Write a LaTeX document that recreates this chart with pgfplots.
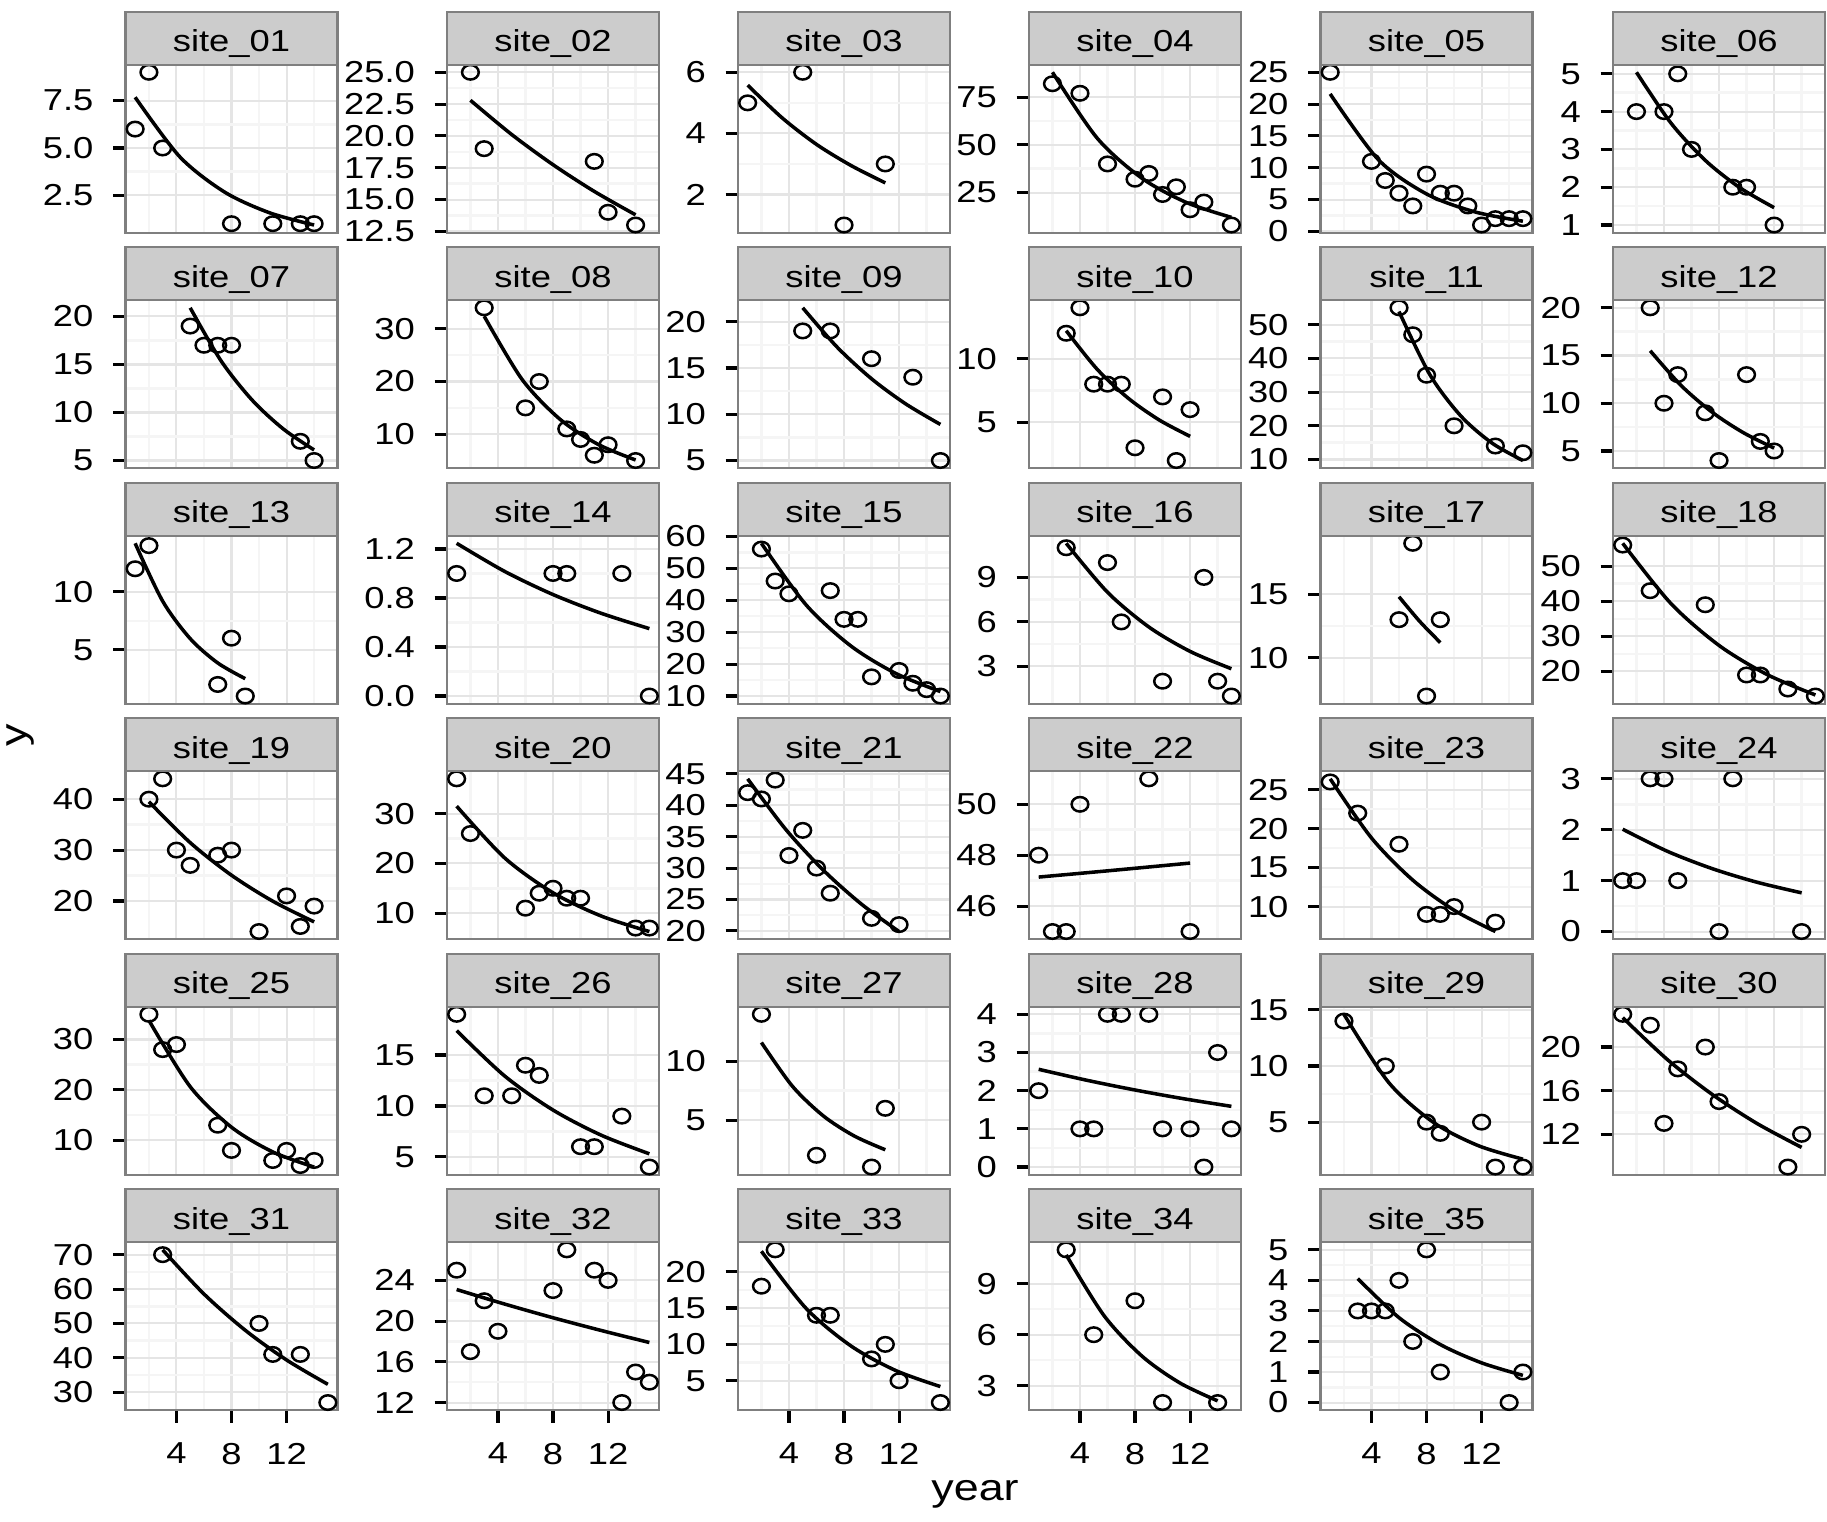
\documentclass[border=0pt]{standalone}
\usepackage{fontspec}
\setmainfont{Liberation Sans}[FakeStretch=1.2]
\usepackage{pgfplots}
\pgfplotsset{compat=1.18}

\definecolor{grey90}{HTML}{E5E5E5}
\definecolor{grey97}{HTML}{F5F5F5}
\definecolor{grey80}{HTML}{CCCCCC}
\definecolor{grey50}{HTML}{7F7F7F}

\newcommand\tickfont{\fontsize{7.3}{8}\selectfont}
\newcommand\titlefont{\fontsize{9}{11}\selectfont}

% panel lower-left corners, in pixels of the 1827x1521 reference
\newcommand{\colx}[1]{\ifcase#1\or125.5\or447\or738\or1029\or1320.5\or1613\fi}
\newcommand{\rowy}[1]{\ifcase#1\or1288.3\or1052.8\or817.3\or581.8\or346.3\or110.8\fi}

\pgfplotsset{
  panel/.style={
    scale only axis, width=51.07pt, height=40.47pt, anchor=south west,
    xmin=0.3, xmax=15.7, enlarge x limits=false, enlarge y limits=0.05,
    xtick={4,8,12}, minor xtick={2,6,10,14}, minor y tick num=1,
    grid=both,
    major grid style={draw=grey90, line width=0.5pt},
    minor grid style={draw=grey97, line width=0.6pt},
    axis line style={draw=grey50, line width=0.55pt},
    tick align=outside, xtick pos=bottom, ytick pos=left,
    major tick length=3pt, minor tick length=0pt,
    tick style={black, line width=0.75pt},
    xticklabels={}, xtick style={draw=none},
    ticklabel style={font=\tickfont},
    yticklabel style={xshift=-1.2pt},
    xticklabel style={yshift=-1.4pt},
    /pgf/number format/assume math mode=true,
    scaled y ticks=false,
  },
  bottom/.style={xticklabels={4,8,12}, xtick style={draw=black}},
  dec/.style={yticklabel style={/pgf/number format/fixed, /pgf/number format/fixed zerofill, /pgf/number format/precision=1}},
  pts/.style={only marks, mark=o, mark size=1.75pt, mark options={xscale=1.15, line width=0.6pt, draw=black}},
  fit/.style={black, line width=0.85pt, smooth, mark=none},
}

% #1 column, #2 row, #3 strip text, #4 axis options, #5 points, #6 fitted curve
\newcommand{\Panel}[6]{%
  \edef\X{\colx{#1}}\edef\Y{\rowy{#2}}%
  \pgfmathsetlengthmacro\Xd{\X*0.2409pt}%
  \pgfmathsetlengthmacro\Yd{\Y*0.2409pt}%
  \begin{axis}[panel, at={(\Xd,\Yd)}, #4]
    \addplot[pts] coordinates {#5};
    \addplot[fit] coordinates {#6};
  \end{axis}
  \pgfmathsetlengthmacro\Sb{(\Y+168)*0.2409pt}%
  \pgfmathsetlengthmacro\St{(\Y+221)*0.2409pt}%
  \pgfmathsetlengthmacro\Xe{(\X+212)*0.2409pt}%
  \pgfmathsetlengthmacro\Xm{(\X+106)*0.2409pt}%
  \pgfmathsetlengthmacro\Sm{(\Y+181)*0.2409pt}%
  \draw[fill=grey80, draw=grey50, line width=0.55pt] (\Xd,\Sb) rectangle (\Xe,\St);
  \node[anchor=base, font=\tickfont, inner sep=0pt] at (\Xm,\Sm) {#3};
}

\begin{document}
\begin{tikzpicture}
\useasboundingbox (0,0) rectangle (440.12pt,366.41pt);

\Panel{1}{1}{site\_01}{ytick={2.5,5,7.5}, dec}{(1,6)(2,9)(3,5)(8,1)(11,1)(13,1)(14,1)}{(1,7.68)(4.25,4.53)(7.5,2.67)(10.75,1.58)(14,0.93)}
\Panel{2}{1}{site\_02}{ytick={12.5,15,17.5,20,22.5,25}, dec}{(2,25)(3,19)(11,18)(12,14)(14,13)}{(2,22.8)(5,20.11)(8,17.74)(11,15.64)(14,13.8)}
\Panel{3}{1}{site\_03}{ytick={2,4,6}}{(1,5)(5,6)(8,1)(11,3)}{(1,5.58)(3.5,4.51)(6,3.64)(8.5,2.95)(11,2.38)}
\Panel{4}{1}{site\_04}{ytick={25,50,75}}{(2,82)(4,77)(6,40)(8,32)(9,35)(10,24)(11,28)(12,16)(13,20)(15,8)}{(2,88)(5.25,53.5)(8.5,32.5)(11.75,19.75)(15,12)}
\Panel{5}{1}{site\_05}{ytick={0,5,10,15,20,25}}{(1,25)(4,11)(5,8)(6,6)(7,4)(8,9)(9,6)(10,6)(11,4)(12,1)(13,2)(14,2)(15,2)}{(1,21.6)(4.5,11.27)(8,5.88)(11.5,3.07)(15,1.6)}
\Panel{6}{1}{site\_06}{ytick={1,2,3,4,5}}{(2,4)(4,4)(5,5)(6,3)(9,2)(10,2)(12,1)}{(2,5.04)(4.5,3.70)(7,2.71)(9.5,1.99)(12,1.46)}

\Panel{1}{2}{site\_07}{ytick={5,10,15,20}}{(5,19)(6,17)(7,17)(8,17)(13,7)(14,5)}{(5,20.9)(7.25,15.36)(9.5,11.29)(11.75,8.30)(14,6.1)}
\Panel{2}{2}{site\_08}{ytick={10,20,30}}{(3,34)(6,15)(7,20)(9,11)(10,9)(11,6)(12,8)(14,5)}{(3,32.4)(5.75,20.41)(8.5,12.85)(11.25,8.10)(14,5.1)}
\Panel{3}{2}{site\_09}{ytick={5,10,15,20}}{(5,19)(7,19)(10,16)(13,14)(15,5)}{(5,21.5)(7.5,17.25)(10,13.83)(12.5,11.10)(15,8.9)}
\Panel{4}{2}{site\_10}{ytick={5,10}}{(3,12)(4,14)(5,8)(6,8)(7,8)(8,3)(10,7)(11,2)(12,6)}{(3,12.2)(5.25,9.17)(7.5,6.90)(9.75,5.19)(12,3.9)}
\Panel{5}{2}{site\_11}{ytick={10,20,30,40,50}}{(6,55)(7,47)(8,35)(10,20)(13,14)(15,12)}{(6,53.9)(8.25,35.1)(10.5,22.87)(12.75,14.89)(15,9.7)}
\Panel{6}{2}{site\_12}{ytick={5,10,15,20}}{(3,20)(4,10)(5,13)(7,9)(8,4)(10,13)(11,6)(12,5)}{(3,15.5)(5.25,11.85)(7.5,9.06)(9.75,6.93)(12,5.3)}

\Panel{1}{3}{site\_13}{ytick={5,10}}{(1,12)(2,14)(7,2)(8,6)(9,1)}{(1,14.2)(3,9.20)(5,5.96)(7,3.86)(9,2.5)}
\Panel{2}{3}{site\_14}{ytick={0,0.4,0.8,1.2}, dec}{(1,1)(8,1)(9,1)(13,1)(15,0)}{(1,1.246)(4.5,1.016)(8,0.828)(11.5,0.675)(15,0.55)}
\Panel{3}{3}{site\_15}{ytick={10,20,30,40,50,60}}{(2,56)(3,46)(4,42)(7,43)(8,34)(9,34)(10,16)(12,18)(13,14)(14,12)(15,10)}{(2,57.8)(5.25,38.5)(8.5,25.67)(11.75,17.1)(15,11.4)}
\Panel{4}{3}{site\_16}{ytick={3,6,9}}{(3,11)(6,10)(7,6)(10,2)(13,9)(14,2)(15,1)}{(3,11.3)(6,8.0)(9,5.66)(12,4.01)(15,2.84)}
\Panel{5}{3}{site\_17}{ytick={10,15}}{(6,13)(7,19)(8,7)(9,13)}{(6,14.8)(7.5,12.87)(9,11.2)}
\Panel{6}{3}{site\_18}{ytick={20,30,40,50}}{(1,56)(3,43)(7,39)(10,19)(11,19)(13,15)(15,13)}{(1,56.5)(4.5,39.36)(8,27.41)(11.5,19.10)(15,13.3)}

\Panel{1}{4}{site\_19}{ytick={20,30,40}}{(2,40)(3,44)(4,30)(5,27)(7,29)(8,30)(10,14)(12,21)(13,15)(14,19)}{(2,39.5)(5,31.46)(8,25.06)(11,19.96)(14,15.9)}
\Panel{2}{4}{site\_20}{ytick={10,20,30}}{(1,37)(2,26)(6,11)(7,14)(8,15)(9,13)(10,13)(14,7)(15,7)}{(1,31.5)(4.5,21.07)(8,14.09)(11.5,9.42)(15,6.3)}
\Panel{3}{4}{site\_21}{ytick={20,25,30,35,40,45}}{(1,42)(2,41)(3,44)(4,32)(5,36)(6,30)(7,26)(10,22)(12,21)}{(1,44.2)(3.75,36.2)(6.5,29.66)(9.25,24.29)(12,19.9)}
\Panel{4}{4}{site\_22}{ytick={46,48,50}}{(1,48)(2,45)(3,45)(4,50)(9,51)(12,45)}{(1,47.14)(6.5,47.41)(12,47.69)}
\Panel{5}{4}{site\_23}{ytick={10,15,20,25}}{(1,26)(3,22)(6,18)(8,9)(9,9)(10,10)(13,8)}{(1,26.4)(4,18.81)(7,13.40)(10,9.54)(13,6.8)}
\Panel{6}{4}{site\_24}{ytick={0,1,2,3}}{(1,1)(2,1)(3,3)(4,3)(5,1)(8,0)(9,3)(14,0)}{(1,2.01)(4.25,1.576)(7.5,1.236)(10.75,0.969)(14,0.76)}

\Panel{1}{5}{site\_25}{ytick={10,20,30}}{(2,35)(3,28)(4,29)(7,13)(8,8)(11,6)(12,8)(13,5)(14,6)}{(2,33.8)(5,20.64)(8,12.60)(11,7.70)(14,4.7)}
\Panel{2}{5}{site\_26}{ytick={5,10,15}}{(1,19)(3,11)(5,11)(6,14)(7,13)(10,6)(11,6)(13,9)(15,4)}{(1,17.4)(4.5,12.93)(8,9.60)(11.5,7.13)(15,5.3)}
\Panel{3}{5}{site\_27}{ytick={5,10}}{(2,14)(6,2)(10,1)(11,6)}{(2,11.6)(4.25,7.88)(6.5,5.35)(8.75,3.64)(11,2.47)}
\Panel{4}{5}{site\_28}{ytick={0,1,2,3,4}}{(1,2)(4,1)(5,1)(6,4)(7,4)(9,4)(10,1)(12,1)(13,0)(14,3)(15,1)}{(1,2.56)(4.5,2.273)(8,2.018)(11.5,1.791)(15,1.59)}
\Panel{5}{5}{site\_29}{ytick={5,10,15}}{(2,14)(5,10)(8,5)(9,4)(12,5)(13,1)(15,1)}{(2,14.6)(5.25,8.53)(8.5,4.98)(11.75,2.91)(15,1.7)}
\Panel{6}{5}{site\_30}{ytick={12,16,20}}{(1,23)(3,22)(4,13)(5,18)(7,20)(8,15)(13,9)(14,12)}{(1,22.7)(4.25,18.85)(7.5,15.66)(10.75,13.0)(14,10.8)}

\Panel{1}{6}{site\_31}{ytick={30,40,50,60,70}, bottom}{(3,70)(10,50)(11,41)(13,41)(15,27)}{(3,71.4)(6,58.56)(9,48.02)(12,39.38)(15,32.3)}
\Panel{2}{6}{site\_32}{ytick={12,16,20,24}, bottom}{(1,25)(2,17)(3,22)(4,19)(8,23)(9,27)(11,25)(12,24)(13,12)(14,15)(15,14)}{(1,23.1)(4.5,21.67)(8,20.33)(11.5,19.08)(15,17.9)}
\Panel{3}{6}{site\_33}{ytick={5,10,15,20}, bottom}{(2,18)(3,23)(6,14)(7,14)(10,8)(11,10)(12,5)(15,2)}{(2,22.8)(5.25,14.94)(8.5,9.79)(11.75,6.41)(15,4.2)}
\Panel{4}{6}{site\_34}{ytick={3,6,9}, bottom}{(3,11)(5,6)(8,8)(10,2)(14,2)}{(3,10.7)(5.75,7.12)(8.5,4.74)(11.25,3.16)(14,2.1)}
\Panel{5}{6}{site\_35}{ytick={0,1,2,3,4,5}, bottom}{(3,3)(4,3)(5,3)(6,4)(7,2)(8,5)(9,1)(14,0)(15,1)}{(3,4.06)(6,2.78)(9,1.90)(12,1.30)(15,0.89)}

\node[rotate=90, font=\titlefont] at (5.06pt,189.35pt) {y};
\node[font=\titlefont] at (234.88pt,6.50pt) {year};
\end{tikzpicture}
\end{document}
